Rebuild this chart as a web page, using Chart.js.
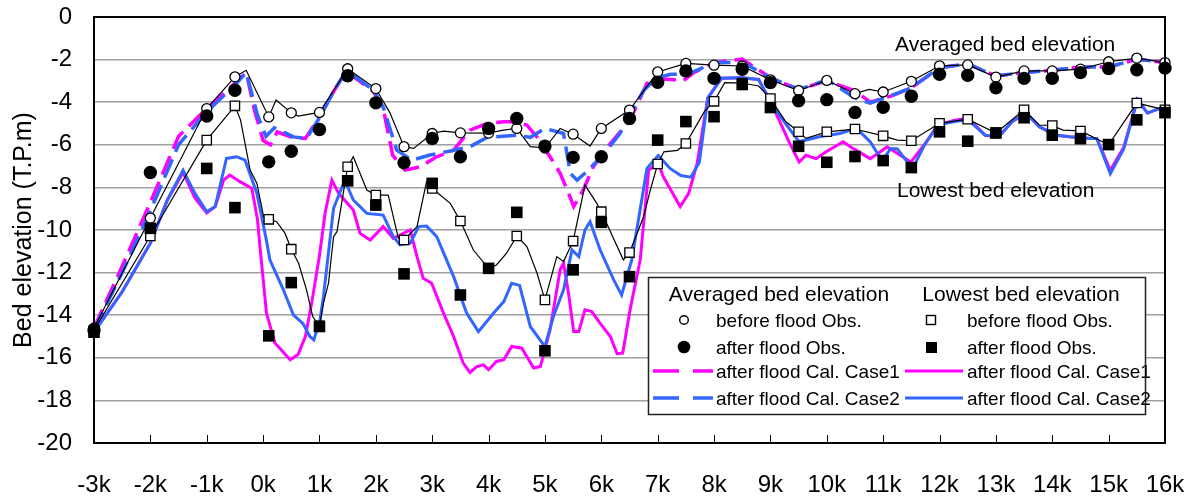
<!DOCTYPE html>
<html>
<head>
<meta charset="utf-8">
<script src="https://cdn.jsdelivr.net/npm/chart.js@4/dist/chart.umd.min.js"></script>
<style>
html,body{margin:0;padding:0;background:#fff;}
#wrap{position:relative;width:1197px;height:497px;}
#c{position:absolute;left:0;top:0;}
#ov{position:absolute;left:0;top:0;pointer-events:none;font-family:"Liberation Sans",Arial,sans-serif;}
</style>
</head>
<body>
<div id="wrap">
<canvas id="c" width="1197" height="497"></canvas>
<svg id="ov" width="1197" height="497" xmlns="http://www.w3.org/2000/svg">
  <text x="895" y="51" font-size="21" fill="#000">Averaged bed elevation</text>
  <text x="897" y="197" font-size="21" fill="#000">Lowest bed elevation</text>
  <rect x="648.5" y="277.5" width="497" height="137" fill="#fff" stroke="#222" stroke-width="1.5"/>
  <text x="779" y="301" font-size="21" text-anchor="middle" fill="#000">Averaged bed elevation</text>
  <text x="1021" y="301" font-size="21" text-anchor="middle" fill="#000">Lowest bed elevation</text>
  <circle cx="684" cy="320" r="4.3" fill="#fff" stroke="#000" stroke-width="1.4"/>
  <text x="716" y="327" font-size="19" fill="#000">before flood Obs.</text>
  <rect x="926.5" y="315.5" width="9" height="9" fill="#fff" stroke="#000" stroke-width="1.4"/>
  <text x="967" y="327" font-size="19" fill="#000">before flood Obs.</text>
  <circle cx="684" cy="347" r="6.3" fill="#000"/>
  <text x="716" y="354" font-size="19" fill="#000">after flood Obs.</text>
  <rect x="926" y="342" width="11" height="11" fill="#000"/>
  <text x="967" y="354" font-size="19" fill="#000">after flood Obs.</text>
  <line x1="653" y1="371" x2="713" y2="371" stroke="#ff00ff" stroke-width="3.5" stroke-dasharray="26 14"/>
  <text x="716" y="378" font-size="19" fill="#000">after flood Cal. Case1</text>
  <line x1="905" y1="371" x2="963" y2="371" stroke="#ff00ff" stroke-width="3"/>
  <text x="967" y="378" font-size="19" fill="#000">after flood Cal. Case1</text>
  <line x1="653" y1="398" x2="713" y2="398" stroke="#3366ff" stroke-width="3.5" stroke-dasharray="26 14"/>
  <text x="716" y="405" font-size="19" fill="#000">after flood Cal. Case2</text>
  <line x1="905" y1="398" x2="963" y2="398" stroke="#3366ff" stroke-width="3"/>
  <text x="967" y="405" font-size="19" fill="#000">after flood Cal. Case2</text>
</svg>
</div>
<script>
const FONT = '"Liberation Sans", Arial, sans-serif';

// ---- tick labels ----
const xTickValues = [-3,-2,-1,0,1,2,3,4,5,6,7,8,9,10,11,12,13,14,15,16];
const xTickLabels = ['-3k','-2k','-1k','0k','1k','2k','3k','4k','5k','6k','7k','8k','9k','10k','11k','12k','13k','14k','15k','16k'];
const yTickValues = [0,-2,-4,-6,-8,-10,-12,-14,-16,-18,-20];

// ---- observation stations (km) ----
const stationKm = [-3,-2,-1,-0.5,0.1,0.5,1,1.5,2,2.5,3,3.5,4,4.5,5,5.5,6,6.5,7,7.5,8,8.5,9,9.5,10,10.5,11,11.5,12,12.5,13,13.5,14,14.5,15,15.5,16];
const avgBeforeObs = [-14.6,-9.44,-4.30,-2.81,-4.69,-4.50,-4.48,-2.43,-3.36,-6.09,-5.47,-5.44,-5.45,-5.23,-6.15,-5.50,-5.23,-4.37,-2.58,-2.18,-2.26,-2.30,-2.95,-3.45,-2.98,-3.60,-3.52,-3.02,-2.29,-2.25,-2.82,-2.53,-2.53,-2.45,-2.10,-1.93,-2.14];
const avgAfterObs = [-14.7,-7.30,-4.65,-3.44,-6.80,-6.30,-5.28,-2.76,-4.03,-6.84,-5.70,-6.56,-5.23,-4.76,-6.06,-6.59,-6.56,-4.76,-3.06,-2.53,-2.88,-2.45,-3.08,-3.93,-3.88,-4.48,-4.24,-3.72,-2.69,-2.74,-3.32,-2.88,-2.88,-2.61,-2.42,-2.48,-2.40];
const lowBeforeObs = [-14.7,-10.28,-5.78,-4.17,-9.50,-10.90,-14.50,-7.03,-8.36,-10.47,-8.05,-9.58,-11.80,-10.28,-13.28,-10.52,-9.14,-11.06,-6.90,-5.94,-3.96,-3.10,-3.83,-5.39,-5.39,-5.26,-5.58,-5.81,-4.99,-4.80,-5.45,-4.36,-5.10,-5.35,-6.00,-4.04,-4.36];
const lowAfterObs = [-14.8,-9.92,-7.11,-8.95,-14.97,-12.47,-14.53,-7.69,-8.83,-12.06,-7.81,-13.05,-11.80,-9.17,-15.67,-11.87,-9.64,-12.19,-5.78,-4.91,-4.68,-3.17,-4.25,-6.07,-6.82,-6.55,-6.74,-7.07,-5.39,-5.83,-5.44,-4.73,-5.55,-5.71,-5.99,-4.83,-4.49];

// ---- observed profile lines (before flood) ----
const avgBeforeLineKm = [-3,-2,-1,-0.5,-0.3,0.1,0.23,0.5,0.62,1,1.5,2,2.25,2.5,2.67,3,3.2,3.5,4,4.26,4.5,4.74,5,5.27,5.5,5.8,6,6.5,7,7.5,8,8.5,9,9.5,10,10.5,10.75,11,11.5,12,12.5,13,13.5,14,14.5,15,15.5,16];
const avgBeforeLineVal = [-14.6,-9.44,-4.30,-2.81,-2.5,-4.69,-3.9,-4.5,-4.65,-4.48,-2.43,-3.36,-4.5,-6.09,-6.17,-5.47,-5.36,-5.44,-5.45,-5.31,-5.23,-6.09,-6.15,-5.23,-5.5,-6.06,-5.23,-4.37,-2.58,-2.18,-2.26,-2.3,-2.95,-3.45,-2.98,-3.6,-3.4,-3.52,-3.02,-2.29,-2.25,-2.82,-2.53,-2.53,-2.45,-2.1,-1.93,-2.14];
const lowBeforeLineKm = [-3,-2,-1,-0.5,-0.4,-0.23,-0.11,0.01,0.1,0.24,0.39,0.5,0.63,0.77,0.88,1,1.07,1.16,1.25,1.31,1.5,1.6,1.84,2,2.22,2.4,2.5,2.73,2.9,3,3.32,3.5,3.73,4,4.14,4.32,4.5,4.68,4.86,5,5.21,5.33,5.5,5.71,5.92,6,6.39,6.5,6.75,6.87,7,7.11,7.35,7.5,7.83,8,8.19,8.5,8.79,9,9.27,9.5,9.63,10,10.5,11,11.25,11.5,12,12.5,13,13.5,13.77,14,14.19,14.5,15,15.5,16];
const lowBeforeLineVal = [-14.7,-10.28,-5.78,-4.17,-4.84,-7.19,-7.81,-9.38,-9.5,-9.61,-10.16,-10.9,-11.56,-12.81,-14.06,-14.53,-13.44,-12.5,-10.31,-10.08,-7.03,-6.56,-8.12,-8.36,-8.36,-10.39,-10.47,-9.84,-7.73,-8.05,-8.75,-9.58,-10.94,-11.8,-11.64,-11.09,-10.28,-10.78,-12.03,-13.28,-11.25,-11.48,-10.52,-7.89,-8.75,-9.14,-11.4,-11.06,-9.38,-8.12,-6.9,-6.33,-6.26,-5.94,-4.43,-3.96,-3.08,-3.1,-3.24,-3.83,-4.91,-5.39,-5.7,-5.39,-5.26,-5.58,-5.78,-5.81,-4.99,-4.8,-5.45,-4.36,-5.07,-5.1,-5.31,-5.35,-6.0,-4.04,-4.36];

// ---- calculated averaged bed elevation ----
const avgCase1Km = [-3,-2.5,-2,-1.5,-1,-0.7,-0.5,-0.3,-0.15,0,0.13,0.25,0.5,0.75,1,1.25,1.45,1.6,1.96,2.13,2.3,2.52,2.79,3.08,3.38,3.67,3.97,4.27,4.5,4.68,4.85,5.09,5.27,5.42,5.51,5.68,5.86,6.16,6.51,6.81,7,7.23,7.45,7.65,8,8.5,9,9.5,10,10.5,10.77,11.15,11.5,12,12.5,13,13.5,14,14.5,15,15.5,16];
const avgCase1Val = [-14.6,-11.7,-8.7,-5.6,-4.3,-3.6,-3.1,-2.6,-4.4,-5.8,-6.0,-5.4,-5.63,-5.7,-4.69,-3.5,-2.65,-2.8,-3.5,-4.3,-6.5,-7.19,-7.03,-6.56,-6.25,-5.31,-5.0,-4.92,-4.92,-5.08,-5.6,-6.56,-7.34,-8.28,-8.9,-8.12,-7.03,-5.94,-4.84,-3.12,-2.9,-2.93,-3.0,-2.6,-2.14,-1.98,-2.85,-3.4,-3.0,-3.46,-4.0,-3.7,-3.32,-2.38,-2.2,-2.77,-2.6,-2.5,-2.35,-2.35,-1.98,-2.14];
const avgCase2Km = [-3,-2.5,-2,-1.5,-1,-0.7,-0.5,-0.3,-0.1,0.05,0.2,0.54,0.77,1.01,1.25,1.48,1.96,2.13,2.37,2.64,2.96,3.3,3.67,3.97,4.5,4.74,5.0,5.33,5.45,5.57,5.77,6.1,6.33,6.75,7,7.23,7.53,8.01,8.51,9,9.51,10,10.5,10.77,11.19,11.5,12,12.5,13,13.5,14,14.5,15,15.5,16];
const avgCase2Val = [-14.7,-12.0,-9.1,-6.0,-4.45,-3.7,-3.2,-2.6,-4.6,-5.6,-5.2,-5.63,-5.7,-4.69,-3.5,-2.5,-3.44,-4.22,-6.25,-6.72,-6.48,-6.3,-6.09,-5.65,-5.55,-5.65,-5.23,-5.47,-7.34,-7.66,-7.19,-6.25,-5.47,-3.44,-2.85,-2.69,-2.69,-2.14,-2.14,-2.85,-3.4,-2.95,-3.8,-4.04,-3.64,-3.32,-2.38,-2.2,-2.77,-2.6,-2.5,-2.35,-2.35,-1.98,-2.14];

// ---- calculated lowest bed elevation ----
const lowCase1Km = [-3,-2.5,-2,-1.7,-1.42,-1.21,-1,-0.85,-0.7,-0.59,-0.41,-0.2,-0.1,-0.05,0.06,0.21,0.48,0.62,0.75,0.87,1.0,1.1,1.22,1.34,1.6,1.72,1.9,2.13,2.31,2.49,2.61,2.73,2.84,2.99,3.2,3.38,3.55,3.67,3.79,3.91,4.0,4.14,4.27,4.41,4.59,4.8,4.92,5.09,5.27,5.33,5.42,5.51,5.6,5.71,5.83,5.98,6.16,6.28,6.38,6.51,6.69,6.84,7.01,7.1,7.4,7.55,7.7,7.89,8.13,8.49,8.79,9.03,9.33,9.51,9.63,9.81,9.99,10.29,10.47,10.77,10.95,11.07,11.25,11.49,11.73,11.97,12.27,12.51,12.81,13.05,13.29,13.53,13.77,14.07,14.31,14.67,14.79,15.03,15.27,15.51,15.69,16];
const lowCase1Val = [-14.8,-12.9,-10.62,-8.6,-7.3,-8.5,-9.2,-8.9,-7.66,-7.42,-7.73,-8.05,-9.5,-10.94,-13.9,-15.31,-16.09,-15.85,-15.0,-13.3,-11.2,-9.2,-7.66,-8.28,-9.06,-10.16,-10.47,-9.84,-10.39,-10.16,-10.0,-11.25,-12.27,-12.5,-13.9,-15.0,-16.25,-16.69,-16.41,-16.33,-16.56,-16.17,-16.09,-15.47,-15.55,-16.48,-16.41,-14.69,-11.87,-11.56,-13.0,-14.77,-14.77,-13.75,-13.83,-14.38,-15.0,-15.81,-15.78,-13.75,-11.4,-7.19,-6.87,-7.5,-8.9,-8.28,-6.87,-3.8,-2.88,-2.85,-2.93,-4.12,-5.86,-6.81,-6.49,-6.65,-6.33,-5.86,-6.18,-6.65,-6.33,-6.1,-6.4,-6.81,-6.0,-5.07,-4.85,-4.75,-5.55,-5.62,-4.91,-4.51,-5.15,-5.55,-5.62,-5.7,-5.7,-7.2,-6.1,-3.88,-4.51,-4.2];
const lowCase2Km = [-3,-2.5,-2,-1.7,-1.42,-1.21,-1,-0.85,-0.65,-0.47,-0.32,-0.11,0.06,0.12,0.36,0.54,0.71,0.83,0.9,1.01,1.07,1.25,1.45,1.6,1.84,2.13,2.31,2.43,2.61,2.76,2.9,3.08,3.38,3.61,3.82,4.09,4.27,4.41,4.55,4.74,5.0,5.15,5.33,5.48,5.6,5.71,5.8,5.98,6.22,6.36,6.54,6.81,7.01,7.22,7.41,7.59,7.74,7.89,8.13,8.49,8.79,9.03,9.33,9.51,9.87,10.23,10.53,10.77,10.92,11.01,11.13,11.25,11.43,11.52,11.73,11.97,12.27,12.51,12.81,13.05,13.29,13.53,13.77,14.07,14.31,14.67,14.79,15.03,15.27,15.51,15.69,16];
const lowCase2Val = [-14.8,-12.9,-10.62,-8.6,-7.19,-8.28,-9.14,-8.9,-6.64,-6.56,-6.72,-8.28,-10.5,-11.4,-12.81,-14.0,-14.4,-15.0,-15.16,-14.22,-13.13,-8.98,-7.66,-8.59,-9.22,-9.3,-10.31,-10.7,-10.62,-9.84,-9.81,-10.31,-12.19,-13.9,-14.77,-13.9,-13.36,-12.5,-12.6,-14.53,-15.47,-14.06,-12.81,-10.94,-11.25,-10.0,-9.61,-10.94,-12.34,-13.05,-11.4,-7.11,-6.5,-7.11,-7.44,-7.52,-6.81,-3.8,-2.88,-2.85,-2.93,-4.12,-5.23,-5.86,-5.62,-5.47,-5.23,-5.86,-6.49,-6.65,-6.18,-6.18,-6.81,-7.13,-6.02,-5.07,-4.91,-4.83,-5.55,-5.62,-4.91,-4.51,-5.15,-5.55,-5.62,-5.7,-5.7,-7.36,-6.18,-3.88,-4.51,-4.2];

const MAGENTA = '#ff00ff';
const BLUE = '#3366ff';

function pts(xs, ys){ return xs.map((x,i)=>({x:x, y:ys[i]})); }

function markerSet(vals, style, radius, fill, bw){
  return { data: pts(stationKm, vals), showLine:false, pointStyle:style, pointRadius:radius,
           pointBackgroundColor:fill, pointBorderColor:'#000', pointBorderWidth:bw, clip:false };
}
function lineSet(xs, ys, color, width, dash){
  return { data: pts(xs, ys), showLine:true, borderColor:color, borderWidth:width,
           borderDash: dash || [], pointRadius:0, tension:0, fill:false };
}

const framePlugin = {
  id:'frame',
  afterDraw(chart){
    const {ctx, chartArea:a, scales:{x}} = chart;
    ctx.save();
    ctx.strokeStyle = '#000';
    ctx.lineWidth = 1;
    xTickValues.forEach(v => {
      const px = Math.round(x.getPixelForValue(v)) + 0.5;
      ctx.beginPath(); ctx.moveTo(px, a.bottom); ctx.lineTo(px, a.bottom - 8); ctx.stroke();
    });
    ctx.lineWidth = 2;
    ctx.strokeRect(a.left, a.top, a.right - a.left, a.bottom - a.top);
    ctx.restore();
  }
};

new Chart(document.getElementById('c'), {
  type: 'scatter',
  data: { datasets: [
    markerSet(lowAfterObs, 'rect', 8.2, '#000', 0),
    markerSet(avgAfterObs, 'circle', 6.7, '#000', 0),
    markerSet(lowBeforeObs, 'rect', 6.6, '#fff', 1.3),
    markerSet(avgBeforeObs, 'circle', 5.0, '#fff', 1.3),
    lineSet(avgBeforeLineKm, avgBeforeLineVal, '#000', 1.2),
    lineSet(lowBeforeLineKm, lowBeforeLineVal, '#000', 1.2),
    lineSet(avgCase2Km, avgCase2Val, BLUE, 3.5, [20, 8]),
    lineSet(avgCase1Km, avgCase1Val, MAGENTA, 3.5, [20, 8]),
    lineSet(lowCase2Km, lowCase2Val, BLUE, 3),
    lineSet(lowCase1Km, lowCase1Val, MAGENTA, 3)
  ]},
  options: {
    responsive:false, animation:false, devicePixelRatio:1,
    layout:{ padding:{ left:0, right:32, top:17, bottom:0 } },
    plugins:{ legend:{display:false}, tooltip:{enabled:false} },
    scales:{
      x:{ type:'linear', min:-3, max:16, position:'bottom',
          afterBuildTicks(s){ s.ticks = xTickValues.map(v=>({value:v})); },
          ticks:{ autoSkip:false, maxRotation:0, color:'#000', padding:28,
                  font:{ size:24, family:FONT },
                  callback:(v)=> xTickLabels[xTickValues.indexOf(v)] },
          grid:{ display:false, drawTicks:false },
          border:{ display:true, color:'#000', width:2 },
          afterFit(s){ s.height = 54; s.paddingLeft = 0; s.paddingRight = 0; } },
      y:{ min:-20, max:0,
          afterBuildTicks(s){ s.ticks = yTickValues.map(v=>({value:v})); },
          ticks:{ color:'#000', padding:22, font:{ size:24, family:FONT } },
          grid:{ color:'#a0a0a0', lineWidth:1.5, drawTicks:false },
          border:{ display:true, color:'#000', width:2 },
          title:{ display:true, text:'Bed elevation (T.P.m)', color:'#000',
                  font:{ size:25, family:FONT }, padding:{ top:9, bottom:0 } },
          afterFit(s){ s.width = 94; s.paddingTop = 0; s.paddingBottom = 0; } }
    }
  },
  plugins:[framePlugin]
});
</script>
</body>
</html>
